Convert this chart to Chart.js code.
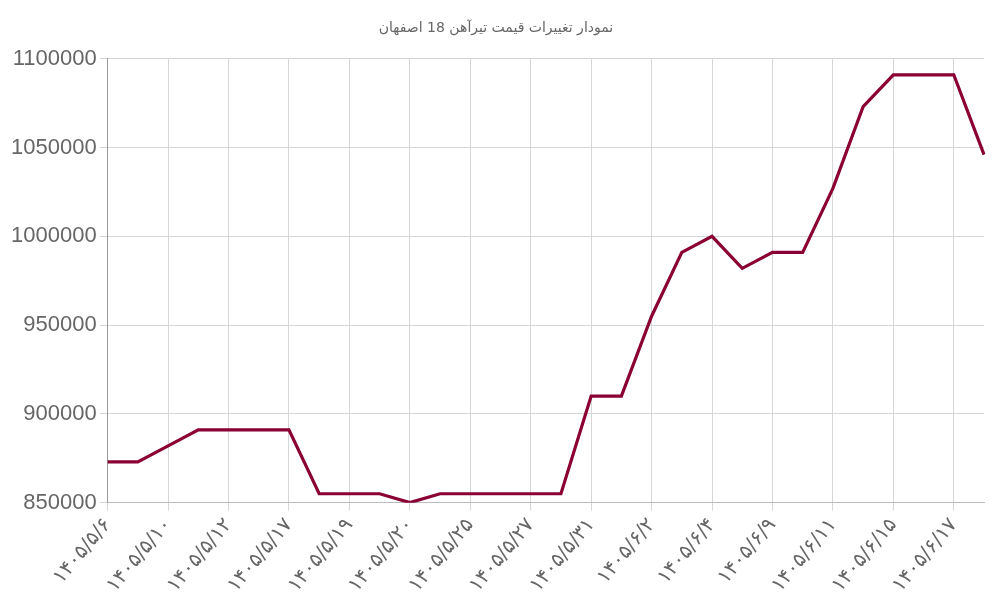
<!DOCTYPE html>
<html><head><meta charset="utf-8">
<script src="https://cdn.jsdelivr.net/npm/chart.js@4"></script>
<style>body{margin:0;background:#fff}#w{width:1000px;height:600px}</style></head>
<body><div id="w"><canvas id="c"></canvas></div>
<script>
const categories=["۱۴۰۵/۵/۶","۱۴۰۵/۵/۸","۱۴۰۵/۵/۱۰","۱۴۰۵/۵/۱۱","۱۴۰۵/۵/۱۲","۱۴۰۵/۵/۱۵","۱۴۰۵/۵/۱۷","۱۴۰۵/۵/۱۸","۱۴۰۵/۵/۱۹","۱۴۰۵/۵/۱۹","۱۴۰۵/۵/۲۰","۱۴۰۵/۵/۲۲","۱۴۰۵/۵/۲۵","۱۴۰۵/۵/۲۶","۱۴۰۵/۵/۲۷","۱۴۰۵/۵/۲۹","۱۴۰۵/۵/۳۱","۱۴۰۵/۶/۱","۱۴۰۵/۶/۲","۱۴۰۵/۶/۳","۱۴۰۵/۶/۴","۱۴۰۵/۶/۵","۱۴۰۵/۶/۹","۱۴۰۵/۶/۱۰","۱۴۰۵/۶/۱۱","۱۴۰۵/۶/۱۲","۱۴۰۵/۶/۱۵","۱۴۰۵/۶/۱۶","۱۴۰۵/۶/۱۷","۱۴۰۵/۶/۱۸"];
const values=[873000,873000,882000,891000,891000,891000,891000,855000,855000,855000,850000,855000,855000,855000,855000,855000,910000,910000,955000,991000,1000000,982000,991000,991000,1027000,1073000,1091000,1091000,1091000,1046000];
const yTicks={min:850000,max:1100000,step:50000};
const title="نمودار تغییرات قیمت تیرآهن 18 اصفهان";
new Chart(document.getElementById('c'),{type:'line',
data:{labels:categories,datasets:[{data:values,borderColor:'#8a0033',borderWidth:3.2,pointRadius:0,tension:0,fill:false}]},
options:{responsive:true,maintainAspectRatio:false,animation:false,
layout:{padding:{left:8,right:16,top:10,bottom:0}},
plugins:{legend:{display:false},title:{display:true,text:title,color:'#666',font:{family:'DejaVu Sans',size:14,weight:'normal'},padding:{top:10,bottom:22}},tooltip:{enabled:false}},
scales:{x:{ticks:{color:'#666',font:{family:'DejaVu Sans',size:20},maxRotation:50,minRotation:50,autoSkip:true,maxTicksLimit:15},grid:{color:'#d6d6d6',tickLength:8},border:{color:'#bbb'}},
y:{min:yTicks.min,max:yTicks.max,ticks:{stepSize:yTicks.step,color:'#666',font:{family:'Liberation Sans',size:22},callback:v=>String(v)},grid:{color:'#d6d6d6'},border:{color:'#999'}}}}});
</script></body></html>
